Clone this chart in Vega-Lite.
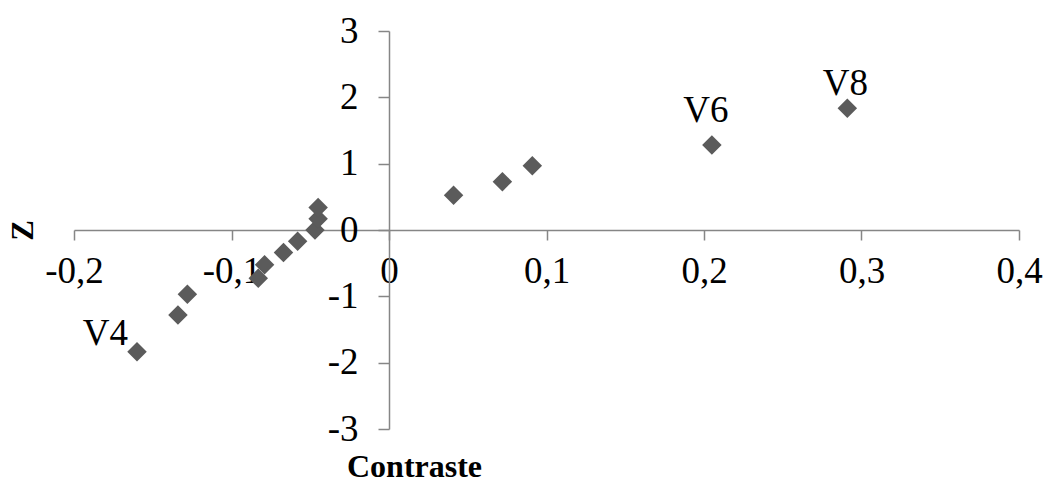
{
  "$schema": "https://vega.github.io/schema/vega-lite/v6.json",
  "width": 945,
  "height": 398,
  "autosize": {"type": "none"},
  "padding": {"left": 74, "top": 31, "right": 26, "bottom": 54},
  "background": "white",
  "config": {"view": {"stroke": null}, "font": "Liberation Serif"},
  "data": {
    "values": [
      {"contraste": -0.160, "z": -1.834, "label": "V4"},
      {"contraste": -0.134, "z": -1.282, "label": ""},
      {"contraste": -0.128, "z": -0.967, "label": ""},
      {"contraste": -0.083, "z": -0.728, "label": ""},
      {"contraste": -0.079, "z": -0.524, "label": ""},
      {"contraste": -0.067, "z": -0.341, "label": ""},
      {"contraste": -0.058, "z": -0.168, "label": ""},
      {"contraste": -0.047, "z": 0.0, "label": ""},
      {"contraste": -0.045, "z": 0.168, "label": ""},
      {"contraste": -0.045, "z": 0.341, "label": ""},
      {"contraste": 0.041, "z": 0.524, "label": ""},
      {"contraste": 0.072, "z": 0.728, "label": ""},
      {"contraste": 0.091, "z": 0.967, "label": ""},
      {"contraste": 0.205, "z": 1.282, "label": "V6"},
      {"contraste": 0.291, "z": 1.834, "label": "V8"}
    ]
  },
  "encoding": {
    "x": {
      "field": "contraste",
      "type": "quantitative",
      "scale": {"domain": [-0.2, 0.4], "nice": false, "zero": false},
      "axis": {
        "orient": "bottom",
        "offset": -199,
        "values": [-0.2, -0.1, 0, 0.1, 0.2, 0.3, 0.4],
        "grid": false,
        "domainColor": "#868686",
        "domainWidth": 1.5,
        "tickColor": "#868686",
        "tickWidth": 1.5,
        "tickSize": 10,
        "labelFont": "Liberation Serif",
        "labelFontSize": 37,
        "labelColor": "black",
        "labelPadding": 13,
        "labelOverlap": false,
        "labelFlush": false,
        "labelExpr": "datum.value == 0 ? '0' : (datum.value < 0 ? '-' : '') + replace(format(abs(datum.value), '.1f'), '.', ',')",
        "title": "Contraste",
        "titleFont": "Liberation Serif",
        "titleFontSize": 32,
        "titleFontWeight": "bold",
        "titleColor": "black",
        "titleX": 340,
        "titleY": 246,
        "titleAlign": "center",
        "titleBaseline": "alphabetic"
      }
    },
    "y": {
      "field": "z",
      "type": "quantitative",
      "scale": {"domain": [-3, 3], "nice": false, "zero": false},
      "axis": {
        "orient": "left",
        "offset": -315,
        "values": [-3, -2, -1, 0, 1, 2, 3],
        "grid": false,
        "domainColor": "#868686",
        "domainWidth": 1.5,
        "tickColor": "#868686",
        "tickWidth": 1.5,
        "tickSize": 11,
        "labelFont": "Liberation Serif",
        "labelFontSize": 37,
        "labelColor": "black",
        "labelPadding": 20,
        "labelOverlap": false,
        "labelFlush": false,
        "labelExpr": "(datum.value < 0 ? '-' : '') + format(abs(datum.value), 'd')",
        "title": "Z",
        "titleFont": "Liberation Serif",
        "titleFontSize": 31,
        "titleFontWeight": "bold",
        "titleColor": "black",
        "titleAngle": -90,
        "titleX": -366,
        "titleY": 199,
        "titleAlign": "center",
        "titleBaseline": "middle"
      }
    }
  },
  "layer": [
    {
      "mark": {"type": "point", "shape": "diamond", "filled": true, "size": 380, "color": "#5b5b5b", "opacity": 1}
    },
    {
      "transform": [{"filter": "datum.label == 'V4'"}],
      "mark": {"type": "text", "align": "right", "baseline": "alphabetic", "dx": -9, "dy": -7, "fontSize": 37, "font": "Liberation Serif", "color": "black"},
      "encoding": {"text": {"field": "label"}}
    },
    {
      "transform": [{"filter": "datum.label == 'V6'"}],
      "mark": {"type": "text", "align": "center", "baseline": "alphabetic", "dx": -6, "dy": -23, "fontSize": 37, "font": "Liberation Serif", "color": "black"},
      "encoding": {"text": {"field": "label"}}
    },
    {
      "transform": [{"filter": "datum.label == 'V8'"}],
      "mark": {"type": "text", "align": "center", "baseline": "alphabetic", "dx": -2, "dy": -13, "fontSize": 37, "font": "Liberation Serif", "color": "black"},
      "encoding": {"text": {"field": "label"}}
    }
  ]
}
